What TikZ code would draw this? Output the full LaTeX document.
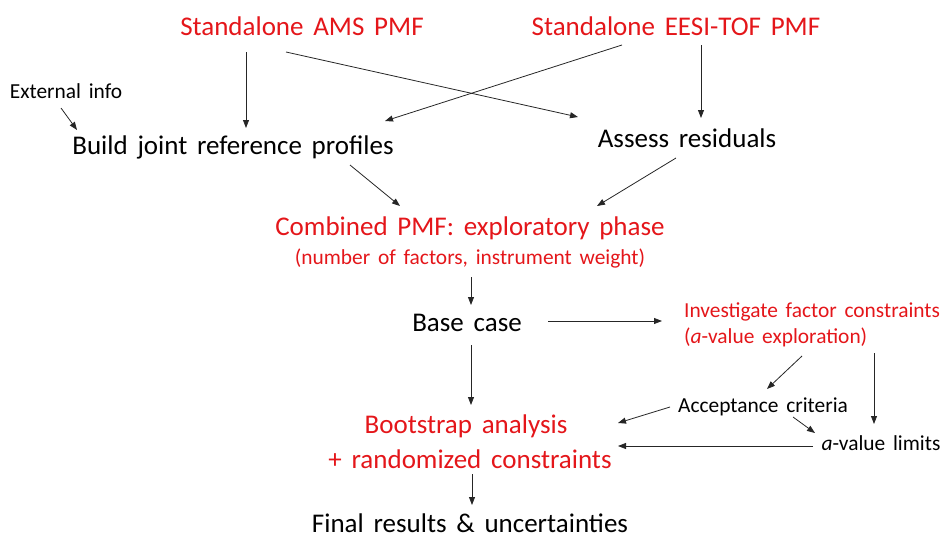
\documentclass[tikz,border=0pt]{standalone}
\usepackage{fontspec}
\setmainfont{Carlito}[WordSpace=1.6]
\usetikzlibrary{arrows.meta,calc}
\definecolor{pmfred}{RGB}{228,22,26}
\tikzstyle{bigred} = [text=pmfred, font=\fontsize{27}{32}\selectfont, inner sep=0pt, anchor=base]
\tikzstyle{bigblack} = [text=black, font=\fontsize{27}{32}\selectfont, inner sep=0pt, anchor=base]
\tikzstyle{smallred} = [text=pmfred, font=\fontsize{21.4}{25}\selectfont, inner sep=0pt, anchor=base]
\tikzstyle{smallblack} = [text=black, font=\fontsize{21.4}{25}\selectfont, inner sep=0pt, anchor=base]
\tikzstyle{arr} = [-{Triangle[length=8pt,width=6pt]}, line width=0.8pt, black!85]

\begin{document}
\begin{tikzpicture}[x=1pt,y=-1pt]
\useasboundingbox (0,0) rectangle (943,538);

% the two single-instrument runs
\node[bigred] (ams) at (302,35) {Standalone AMS PMF};
\node[bigred] (eesi) at (676,35) {Standalone EESI-TOF PMF};

\node[smallblack] (ext) at (66,98) {External info};
\node[bigblack] (build) at (233,154) {Build joint reference profiles};
\node[bigblack] (assess) at (687,147) {Assess residuals};

% combined run
\node[bigred] (comb) at (470,235) {Combined PMF: exploratory phase};
\node[smallred] (combsub) at (470,264) {(number of factors, instrument weight)};
\node[bigblack] (base) at (467,331) {Base case};

\node[smallred, anchor=base west] (inv) at (684,317) {Investigate factor constraints};
\node[smallred, anchor=base west] (invsub) at (684,343) {(\textit{a}-value exploration)};
\node[smallblack] (accept) at (763,412) {Acceptance criteria};
\node[smallblack] (limits) at (881,450) {\textit{a}-value limits};

\node[bigred] (boot) at (466,433) {Bootstrap analysis};
\node[bigred] (bootsub) at (470,468) {+ randomized constraints};
\node[bigblack] (final) at (470,532) {Final results \& uncertainties};

% connectors
\draw[arr] ($(ams.base)+(-56,17)$) -- ($(build.base)+(13,-26)$);
\draw[arr] ($(ams.base)+(-16,17)$) -- ($(assess.base)+(-109,-30)$);
\draw[arr] ($(eesi.base)+(-54,10)$) -- ($(build.base)+(152,-33)$);
\draw[arr] ($(eesi.base)+(25,10)$) -- ($(assess.base)+(14,-29)$);
\draw[arr] ($(ext.base)+(-5,10)$) -- ($(build.base)+(-156,-24)$);
\draw[arr] ($(build.base)+(117,11)$) -- ($(comb.base)+(-70,-29)$);
\draw[arr] ($(assess.base)+(-11,11)$) -- ($(comb.base)+(127,-29)$);
\draw[arr] ($(combsub.base)+(1,13)$) -- ($(base.base)+(4,-26)$);
\draw[arr] ($(base.base)+(81,-10)$) -- ($(inv.base west)+(-22,4)$);
\draw[arr] ($(invsub.base west)+(118,13)$) -- ($(accept.base)+(4,-23)$);
\draw[arr] ($(invsub.base west)+(190,10)$) -- ($(limits.base)+(-7,-26)$);
\draw[arr] ($(accept.base)+(-93,-5)$) -- ($(boot.base)+(152,-10)$);
\draw[arr] ($(accept.base)+(30,5)$) -- ($(limits.base)+(-66,-17)$);
\draw[arr] ($(limits.base)+(-68,-4)$) -- ($(bootsub.base)+(148,-22)$);
\draw[arr] ($(base.base)+(4,14)$) -- ($(boot.base)+(5,-28)$);
\draw[arr] ($(bootsub.base)+(2,6)$) -- ($(final.base)+(2,-27)$);
\end{tikzpicture}
\end{document}
